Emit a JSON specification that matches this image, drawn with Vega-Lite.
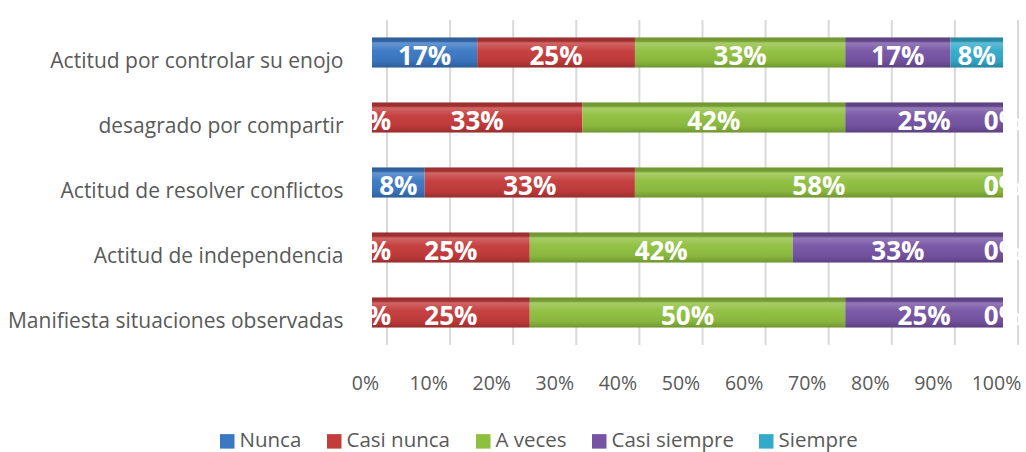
{
  "$schema": "https://vega.github.io/schema/vega-lite/v6.json",
  "autosize": {"type": "none"},
  "padding": {"left": 372, "top": 20, "right": 23, "bottom": 107},
  "width": 631,
  "height": 325,
  "background": "white",
  "config": {"view": {"stroke": null}, "font": "Open Sans"},
  "datasets": {
    "bars": [
      {"cat": "Actitud por controlar su enojo", "serie": "Nunca", "o": 1, "v": 0.1667},
      {"cat": "Actitud por controlar su enojo", "serie": "Casi nunca", "o": 2, "v": 0.25},
      {"cat": "Actitud por controlar su enojo", "serie": "A veces", "o": 3, "v": 0.3333},
      {"cat": "Actitud por controlar su enojo", "serie": "Casi siempre", "o": 4, "v": 0.1667},
      {"cat": "Actitud por controlar su enojo", "serie": "Siempre", "o": 5, "v": 0.0833},
      {"cat": "desagrado por compartir", "serie": "Nunca", "o": 1, "v": 0},
      {"cat": "desagrado por compartir", "serie": "Casi nunca", "o": 2, "v": 0.3333},
      {"cat": "desagrado por compartir", "serie": "A veces", "o": 3, "v": 0.4167},
      {"cat": "desagrado por compartir", "serie": "Casi siempre", "o": 4, "v": 0.25},
      {"cat": "desagrado por compartir", "serie": "Siempre", "o": 5, "v": 0},
      {"cat": "Actitud de resolver conflictos", "serie": "Nunca", "o": 1, "v": 0.0833},
      {"cat": "Actitud de resolver conflictos", "serie": "Casi nunca", "o": 2, "v": 0.3333},
      {"cat": "Actitud de resolver conflictos", "serie": "A veces", "o": 3, "v": 0.5833},
      {"cat": "Actitud de resolver conflictos", "serie": "Casi siempre", "o": 4, "v": 0},
      {"cat": "Actitud de resolver conflictos", "serie": "Siempre", "o": 5, "v": 0},
      {"cat": "Actitud de independencia", "serie": "Nunca", "o": 1, "v": 0},
      {"cat": "Actitud de independencia", "serie": "Casi nunca", "o": 2, "v": 0.25},
      {"cat": "Actitud de independencia", "serie": "A veces", "o": 3, "v": 0.4167},
      {"cat": "Actitud de independencia", "serie": "Casi siempre", "o": 4, "v": 0.3333},
      {"cat": "Actitud de independencia", "serie": "Siempre", "o": 5, "v": 0},
      {"cat": "Manifiesta situaciones observadas", "serie": "Nunca", "o": 1, "v": 0},
      {"cat": "Manifiesta situaciones observadas", "serie": "Casi nunca", "o": 2, "v": 0.25},
      {"cat": "Manifiesta situaciones observadas", "serie": "A veces", "o": 3, "v": 0.5},
      {"cat": "Manifiesta situaciones observadas", "serie": "Casi siempre", "o": 4, "v": 0.25},
      {"cat": "Manifiesta situaciones observadas", "serie": "Siempre", "o": 5, "v": 0}
    ],
    "grid": [
      {"g": 0}, {"g": 0.1}, {"g": 0.2}, {"g": 0.3}, {"g": 0.4}, {"g": 0.5},
      {"g": 0.6}, {"g": 0.7}, {"g": 0.8}, {"g": 0.9}, {"g": 1}
    ]
  },
  "layer": [
    {
      "data": {"name": "grid"},
      "mark": {"type": "rule", "color": "#d9d9d9", "strokeWidth": 2, "xOffset": 15},
      "encoding": {
        "x": {"field": "g", "type": "quantitative", "scale": {"domain": [0, 1]},
          "axis": {"values": [0, 0.1, 0.2, 0.3, 0.4, 0.5, 0.6, 0.7, 0.8, 0.9, 1], "format": ".0%", "grid": false, "domain": false, "ticks": false, "labelOverlap": false, "labelFlush": false, "labelBound": false, "labelPadding": 29, "labelOffset": -7, "labelFontSize": 19.5, "labelColor": "#595959", "title": null, "labelFont": "Open Sans"}}
      }
    },
    {
      "data": {"name": "bars"},
      "mark": {"type": "bar"},
      "encoding": {
        "y": {"field": "cat", "type": "nominal", "sort": null,
          "scale": {"paddingInner": 0.538, "paddingOuter": 0.269},
          "axis": {"title": null, "domain": false, "ticks": false, "labelPadding": 29, "labelOffset": 9, "labelFontSize": 21, "labelColor": "#595959", "labelLimit": 400, "labelFont": "Open Sans"}},
        "x": {"field": "v", "type": "quantitative", "stack": "normalize"},
        "order": {"field": "o", "type": "quantitative"},
        "color": {"field": "serie", "type": "nominal",
          "scale": {"domain": ["Nunca", "Casi nunca", "A veces", "Casi siempre", "Siempre"],
            "range": ["#3A78C3", "#C43B3B", "#8FBF3F", "#7654A4", "#33AACB"]},
          "legend": {"orient": "none", "legendX": -155, "legendY": 411, "direction": "horizontal", "title": null, "symbolType": "square", "symbolSize": 210, "labelFontSize": 20.5, "labelColor": "#595959", "columnPadding": 22, "labelOffset": 2, "labelFont": "Open Sans", "symbolStrokeWidth": 0}}
      }
    },
    {
      "data": {"name": "bars"},
      "mark": {"type": "bar", "color": {"gradient": "linear", "x1": 0, "y1": 0, "x2": 0, "y2": 1, "stops": [
        {"offset": 0, "color": "rgba(0,0,0,0.22)"},
        {"offset": 0.12, "color": "rgba(0,0,0,0.18)"},
        {"offset": 0.18, "color": "rgba(255,255,255,0.22)"},
        {"offset": 0.45, "color": "rgba(255,255,255,0.03)"},
        {"offset": 0.8, "color": "rgba(0,0,0,0.05)"},
        {"offset": 1, "color": "rgba(0,0,0,0.22)"}
      ]}},
      "encoding": {
        "y": {"field": "cat", "type": "nominal", "sort": null},
        "x": {"field": "v", "type": "quantitative", "stack": "normalize"},
        "order": {"field": "o", "type": "quantitative"},
        "detail": {"field": "serie", "type": "nominal"}
      }
    },
    {
      "data": {"name": "bars"},
      "mark": {"type": "text", "color": "white", "fontWeight": "bold", "fontSize": 26, "font": "Open Sans", "baseline": "middle", "dy": 4},
      "encoding": {
        "y": {"field": "cat", "type": "nominal", "sort": null},
        "x": {"field": "v", "type": "quantitative", "stack": "normalize", "bandPosition": 0.5},
        "order": {"field": "o", "type": "quantitative"},
        "text": {"field": "v", "type": "quantitative", "format": ".0%"}
      }
    }
  ]
}
